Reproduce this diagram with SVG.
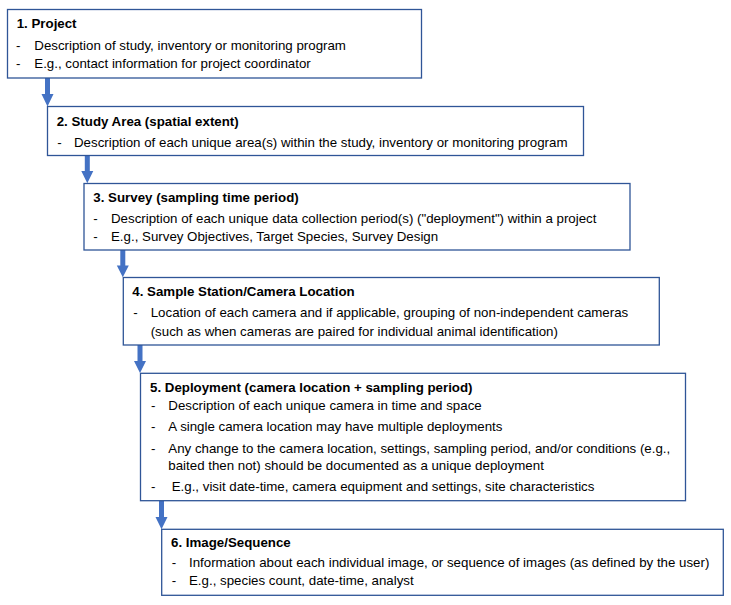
<svg xmlns="http://www.w3.org/2000/svg" width="731" height="605" viewBox="0 0 731 605">
<style>
.box{fill:#ffffff;stroke:#2F5597;stroke-width:1.3}
.t{font-family:"Liberation Sans",Arial,sans-serif;font-size:13.3px;fill:#000000}
.h{font-weight:bold}
.arr{fill:#4472C4;stroke:none}
</style>
<rect width="731" height="605" fill="#ffffff"/>
<g id="connectors">
<path class="arr" d="M45,78 H50 V94 H53.5 L47.5,106.5 L41.5,94 H45 Z"/>
<path class="arr" d="M84.8,155.3 H89.8 V171 H93.3 L87.3,183.3 L81.3,171 H84.8 Z"/>
<path class="arr" d="M120.3,250 H125.3 V265.5 H128.8 L122.8,277.3 L116.8,265.5 H120.3 Z"/>
<path class="arr" d="M137.5,345 H142.5 V361 H146 L140,373 L134,361 H137.5 Z"/>
<path class="arr" d="M159,500.7 H164 V517 H167.5 L161.5,529.3 L155.5,517 H159 Z"/>
</g>
<g id="node1">
<rect class="box" x="7.5" y="9.5" width="414" height="68.5"/>
<text class="t h" x="16.7" y="28">1. Project</text>
<text class="t" x="16" y="50">-</text>
<text class="t" x="34.3" y="50">Description of study, inventory or monitoring program</text>
<text class="t" x="16" y="68.3">-</text>
<text class="t" x="34.3" y="68.3">E.g., contact information for project coordinator</text>
</g>
<g id="node2">
<rect class="box" x="47.5" y="106.5" width="536" height="49"/>
<text class="t h" x="56.7" y="126">2. Study Area (spatial extent)</text>
<text class="t" x="57.3" y="146.7">-</text>
<text class="t" x="74" y="146.7">Description of each unique area(s) within the study, inventory or monitoring program</text>
</g>
<g id="node3">
<rect class="box" x="84" y="183.5" width="546" height="66.5"/>
<text class="t h" x="93.3" y="201.7">3. Survey (sampling time period)</text>
<text class="t" x="93.3" y="223.3">-</text>
<text class="t" x="111" y="223.3">Description of each unique data collection period(s) ("deployment") within a project</text>
<text class="t" x="93.3" y="241">-</text>
<text class="t" x="111" y="241">E.g., Survey Objectives, Target Species, Survey Design</text>
</g>
<g id="node4">
<rect class="box" x="123.3" y="277.5" width="536" height="67.5"/>
<text class="t h" x="132.3" y="295.7">4. Sample Station/Camera Location</text>
<text class="t" x="133.3" y="317.3">-</text>
<text class="t" x="150.7" y="317.3">Location of each camera and if applicable, grouping of non-independent  cameras</text>
<text class="t" x="150.7" y="335.7">(such as when cameras are paired for individual  animal identification)</text>
</g>
<g id="node5">
<rect class="box" x="140.5" y="373.3" width="545" height="127.4"/>
<text class="t h" x="150" y="391.7">5. Deployment (camera location + sampling period)</text>
<text class="t" x="151" y="410">-</text>
<text class="t" x="168.3" y="410">Description of each unique camera in time and space</text>
<text class="t" x="151" y="430.7">-</text>
<text class="t" x="168.3" y="430.7">A single camera location may have multiple deployments</text>
<text class="t" x="151" y="452.7">-</text>
<text class="t" x="168.3" y="452.7">Any change to the camera location, settings, sampling period, and/or conditions (e.g.,</text>
<text class="t" x="168.3" y="470">baited then not) should be documented as a unique deployment</text>
<text class="t" x="151" y="490.7">-</text>
<text class="t" x="171.7" y="490.7">E.g., visit date-time, camera equipment and settings, site characteristics</text>
</g>
<g id="node6">
<rect class="box" x="161.7" y="529.3" width="561.6" height="66"/>
<text class="t h" x="171" y="546.7">6. Image/Sequence</text>
<text class="t" x="171.7" y="567.3">-</text>
<text class="t" x="189" y="567.3">Information about each individual image, or sequence of images (as defined by the user)</text>
<text class="t" x="171.7" y="585">-</text>
<text class="t" x="189" y="585">E.g., species count, date-time, analyst</text>
</g>
</svg>
